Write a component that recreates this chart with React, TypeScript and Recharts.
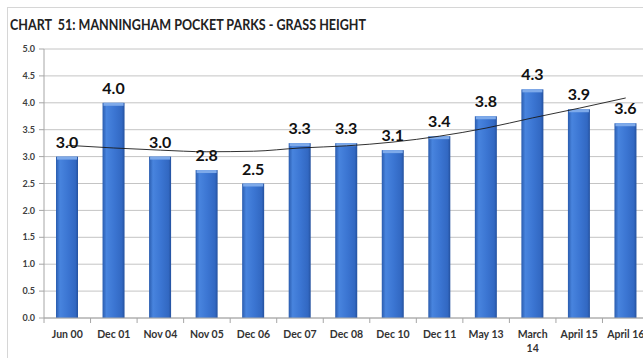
import React from 'react';
import {
  ComposedChart,
  Bar,
  Line,
  XAxis,
  YAxis,
  CartesianGrid,
  LabelList
} from 'recharts';

// survey dates along the x axis
const categories = [
  'Jun 00', 'Dec 01', 'Nov 04', 'Nov 05', 'Dec 06', 'Dec 07', 'Dec 08',
  'Dec 10', 'Dec 11', 'May 13', 'March 14', 'April 15', 'April 16'
];

// average grass height per survey
const heights = [3.0, 4.0, 3.0, 2.75, 2.5, 3.25, 3.25, 3.12, 3.38, 3.75, 4.25, 3.88, 3.62];

// excel polynomial trendline
const trend = [3.21, 3.16, 3.12, 3.09, 3.1, 3.16, 3.2, 3.27, 3.38, 3.53, 3.72, 3.9, 4.09];

const yTicks = [0, 0.5, 1, 1.5, 2, 2.5, 3, 3.5, 4, 4.5, 5];

// labels Excel broke onto two lines
const wrapped = ['March 14'];

const data = categories.map((name, i) => ({
  name,
  value: heights[i],
  trend: trend[i]
}));

const FONT = 'Lato, "Open Sans", sans-serif';
const HALF_BAND = 23.25;

const XTick = (props: any) => {
  const { x, y, payload } = props;
  const label: string = payload.value;
  const lines = wrapped.includes(label) ? label.split(' ') : [label];
  return (
    <g>
      <line x1={x - HALF_BAND} y1={y} x2={x - HALF_BAND} y2={y + 5} stroke="#a6a6a6" />
      <text
        x={x}
        y={y + 20}
        textAnchor="middle"
        fontFamily={FONT}
        fontWeight="bold"
        fontSize={10.5}
        fill="#333"
      >
        {lines.map((l, i) => (
          <tspan key={i} x={x} dy={i === 0 ? 0 : 14}>
            {l}
          </tspan>
        ))}
      </text>
    </g>
  );
};

const BarShape = (props: any) => {
  const { x, y, width, height } = props;
  if (!height || height <= 0) return null;
  return (
    <g>
      <rect x={x} y={y} width={width} height={height} fill="url(#barGrad)" />
      <rect x={x + 1} y={y} width={width - 2} height={3} fill="#7eaaea" />
    </g>
  );
};

export default function App() {
  return (
    <div
      style={{
        position: 'absolute',
        left: 0,
        top: 0,
        width: 643,
        height: 358,
        overflow: 'hidden',
        background: '#fff'
      }}
    >
      <div
        style={{
          position: 'absolute',
          left: 7,
          top: 7,
          width: 700,
          height: 400,
          border: '1px solid #d6d6d6'
        }}
      />
      <svg
        width={643}
        height={40}
        style={{ position: 'absolute', left: 0, top: 0 }}
      >
        <text
          x={10}
          y={30}
          fontFamily={FONT}
          fontWeight="bold"
          fontSize={16}
          fill="#222"
          textLength={356}
          lengthAdjust="spacingAndGlyphs"
          style={{ whiteSpace: 'pre' }}
        >
          {'CHART  51: MANNINGHAM POCKET PARKS - GRASS HEIGHT'}
        </text>
      </svg>
      <div style={{ position: 'absolute', left: 0, top: 0 }}>
        <ComposedChart
          width={660}
          height={358}
          data={data}
          margin={{ top: 49, right: 11, bottom: 10, left: 0 }}
        >
          <defs>
            <linearGradient id="barGrad" x1="0" y1="0" x2="1" y2="0">
              <stop offset="0%" stopColor="#2a5cae" />
              <stop offset="18%" stopColor="#4884de" />
              <stop offset="55%" stopColor="#3b75d2" />
              <stop offset="88%" stopColor="#3268c2" />
              <stop offset="100%" stopColor="#24519e" />
            </linearGradient>
          </defs>
          <CartesianGrid vertical={false} stroke="#c4c4c4" />
          <XAxis
            dataKey="name"
            height={30}
            interval={0}
            tickSize={0}
            tickMargin={0}
            tickLine={false}
            axisLine={{ stroke: '#a6a6a6' }}
            tick={<XTick />}
          />
          <YAxis
            width={44}
            domain={[0, 5]}
            ticks={yTicks}
            interval={0}
            tickSize={5}
            tickMargin={4}
            axisLine={{ stroke: '#a6a6a6' }}
            tickLine={{ stroke: '#a6a6a6' }}
            tickFormatter={(v: number) => v.toFixed(1)}
            tick={{ fontFamily: FONT, fontWeight: 'bold', fontSize: 9, fill: '#404040' }}
          />
          <Bar
            dataKey="value"
            barSize={22}
            shape={<BarShape />}
            isAnimationActive={false}
          >
            <LabelList
              dataKey="value"
              position="top"
              offset={9}
              formatter={(v: any) => Number(v).toFixed(1)}
              style={{ fontFamily: FONT, fontWeight: 'bold', fontSize: 16, fill: '#111' }}
            />
          </Bar>
          <Line
            dataKey="trend"
            type="monotone"
            stroke="#1a1a1a"
            strokeWidth={0.9}
            dot={false}
            activeDot={false}
            isAnimationActive={false}
          />
        </ComposedChart>
      </div>
    </div>
  );
}
